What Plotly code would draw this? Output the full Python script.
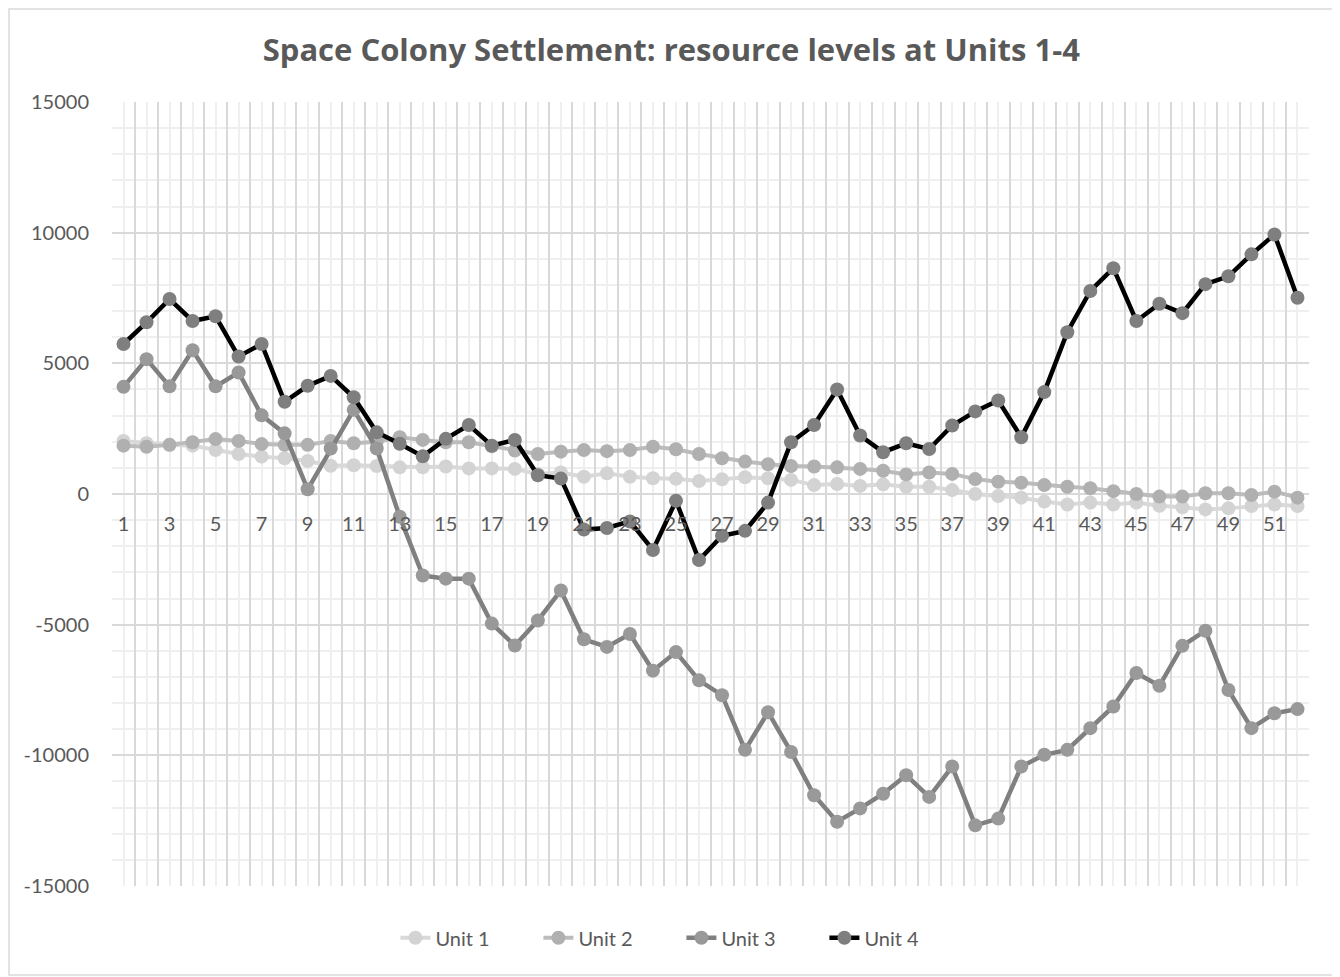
import plotly.graph_objects as go

periods = list(range(1, 53))

unit1 = [2030, 1940, 1880, 1850, 1680, 1530, 1430, 1370, 1260, 1080,
         1100, 1070, 1020, 1020, 1050, 980, 980, 960, 770, 820,
         660, 790, 660, 600, 580, 500, 560, 640, 600, 540,
         340, 380, 310, 370, 280, 280, 150, 0, -80, -140,
         -290, -400, -330, -400, -330, -450, -510, -590, -550, -460,
         -400, -460]

unit2 = [1850, 1810, 1880, 1980, 2100, 2030, 1910, 1880, 1880, 2030,
         1940, 2000, 2170, 2070, 1980, 1980, 1830, 1660, 1530, 1620,
         1680, 1640, 1680, 1810, 1710, 1530, 1370, 1240, 1140, 1070,
         1050, 1020, 960, 890, 750, 820, 770, 570, 470, 430,
         340, 280, 220, 110, 0, -100, -100, 30, 30, -40,
         90, -140]

unit3 = [4100, 5160, 4120, 5500, 4120, 4650, 3010, 2320, 180, 1740,
         3220, 1740, -870, -3120, -3240, -3240, -4960, -5800, -4840, -3690,
         -5560, -5850, -5360, -6760, -6050, -7130, -7700, -9790, -8350, -9870,
         -11530, -12540, -12030, -11470, -10760, -11590, -10430, -12680, -12420, -10430,
         -9980, -9790, -8960, -8130, -6850, -7340, -5810, -5230, -7500, -8960,
         -8390, -8230]

unit4 = [5740, 6570, 7460, 6620, 6800, 5260, 5740, 3530, 4140, 4520,
         3700, 2360, 1920, 1440, 2110, 2640, 1850, 2070, 720, 590,
         -1360, -1300, -1050, -2140, -260, -2530, -1600, -1410, -330, 1980,
         2640, 4000, 2240, 1600, 1940, 1720, 2620, 3160, 3580, 2170,
         3900, 6190, 7770, 8640, 6620, 7280, 6920, 8030, 8330, 9170,
         9930, 7510]

series_names = ["Unit 1", "Unit 2", "Unit 3", "Unit 4"]
series_values = [unit1, unit2, unit3, unit4]

x_labels = [str(p) for p in periods if p % 2 == 1]
y_ticks = [-15000, -10000, -5000, 0, 5000, 10000, 15000]

line_colors = ["#d9d9d9", "#bcbcbc", "#808080", "#000000"]
marker_colors = ["#d3d3d3", "#b0b0b0", "#999999", "#7f7f7f"]
line_widths = [4, 4, 4.5, 4.5]

FONT = "Lato"
GREY = "#595959"

fig = go.Figure()

for name, vals, lc, mc, lw in zip(series_names, series_values, line_colors, marker_colors, line_widths):
    fig.add_trace(go.Scatter(
        x=periods,
        y=vals,
        mode="lines+markers",
        name=name,
        line=dict(color=lc, width=lw),
        marker=dict(color=mc, size=14),
    ))

# empty trace so the label axis gets its own subplot
fig.add_trace(go.Scatter(x=[], y=[], xaxis="x2", showlegend=False, hoverinfo="skip"))

# page body adds 8px, margins compensate for it
fig.update_layout(
    width=1340,
    height=977,
    margin=dict(l=104, r=39, t=94, b=99),
    paper_bgcolor="white",
    plot_bgcolor="white",
    font=dict(family=FONT, color=GREY, size=20),
    title=dict(
        text="<b>Space Colony Settlement: resource levels at Units 1-4</b>",
        x=0.495, xanchor="center", y=0.957, yanchor="middle",
        font=dict(family="Open Sans", size=31, color=GREY),
    ),
    xaxis=dict(
        range=[0.5, 52.5],
        tickmode="linear", tick0=0.5, dtick=1,
        showticklabels=False,
        showgrid=True, gridcolor="#d9d9d9", gridwidth=2,
        minor=dict(tick0=0, dtick=0.5, showgrid=True, gridcolor="#efefef", gridwidth=2),
        zeroline=False, showline=False, ticks="",
    ),
    xaxis2=dict(
        overlaying="x", anchor="free", position=0.5, side="bottom",
        range=[0.5, 52.5],
        tickmode="array", tickvals=[int(v) for v in x_labels], ticktext=x_labels,
        showgrid=False, zeroline=False, showline=False, ticks="",
        ticklabelstandoff=16,
        tickfont=dict(family=FONT, size=20, color=GREY),
    ),
    yaxis=dict(
        range=[-15000, 15000],
        tickmode="array", tickvals=y_ticks, ticktext=[str(v) for v in y_ticks],
        showgrid=True, gridcolor="#d9d9d9", gridwidth=2,
        minor=dict(dtick=1000, showgrid=True, gridcolor="#efefef", gridwidth=2),
        zeroline=False, showline=False, ticks="",
        ticklabelstandoff=22,
        tickfont=dict(family=FONT, size=20, color=GREY),
    ),
    legend=dict(
        orientation="h", x=0.4757, xanchor="center", y=-0.066, yanchor="middle",
        entrywidth=98, entrywidthmode="pixels",
        font=dict(family=FONT, size=20, color=GREY),
        bgcolor="rgba(0,0,0,0)",
    ),
    shapes=[dict(
        type="rect", xref="paper", yref="paper",
        x0=-0.086, x1=1.0234, y0=-0.1135, y1=1.1186,
        line=dict(color="#d9d9d9", width=1.5), fillcolor="rgba(0,0,0,0)",
        layer="below",
    )],
)

fig.write_html("out.html")
